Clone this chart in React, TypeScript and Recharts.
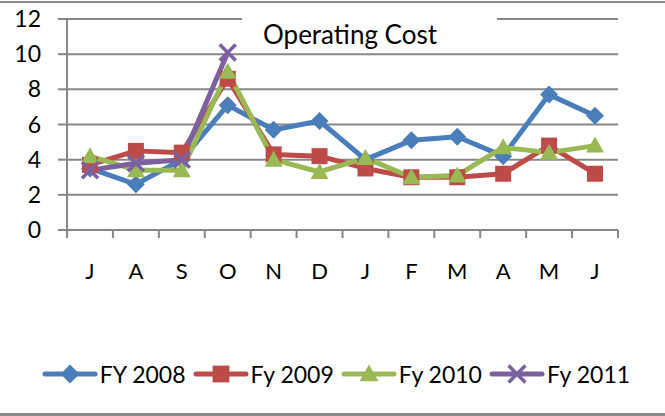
import { LineChart, Line, XAxis, YAxis, CartesianGrid, Legend } from 'recharts';

const months = ['J', 'A', 'S', 'O', 'N', 'D', 'J', 'F', 'M', 'A', 'M', 'J'];
const fy2008 = [3.5, 2.6, 4.0, 7.1, 5.7, 6.2, 4.0, 5.1, 5.3, 4.2, 7.7, 6.5];
const fy2009 = [3.7, 4.5, 4.4, 8.6, 4.3, 4.2, 3.5, 3.0, 3.0, 3.2, 4.8, 3.2];
const fy2010 = [4.2, 3.4, 3.4, 9.0, 4.0, 3.3, 4.1, 3.0, 3.1, 4.7, 4.4, 4.8];
const fy2011 = [3.4, 3.8, 4.0, 10.1, null, null, null, null, null, null, null, null];
const yTicks = [0, 2, 4, 6, 8, 10, 12];

const data = months.map((m, i) => ({
  month: m,
  fy2008: fy2008[i],
  fy2009: fy2009[i],
  fy2010: fy2010[i],
  fy2011: fy2011[i],
}));

const FONT = 'Lato, "Open Sans", sans-serif';
const GRID = '#878787';

const series = [
  { key: 'fy2008', name: 'FY 2008', color: '#4A7EBB', shape: 'diamond' },
  { key: 'fy2009', name: 'Fy 2009', color: '#BE4B48', shape: 'square' },
  { key: 'fy2010', name: 'Fy 2010', color: '#98B954', shape: 'triangle' },
  { key: 'fy2011', name: 'Fy 2011', color: '#7D60A0', shape: 'cross' },
];

function Marker({ cx, cy, shape, color, s = 1 }: any) {
  if (shape === 'diamond') {
    return <polygon points={`${cx},${cy - 9 * s} ${cx + 9 * s},${cy} ${cx},${cy + 9 * s} ${cx - 9 * s},${cy}`} fill={color} />;
  }
  if (shape === 'square') {
    return <rect x={cx - 8 * s} y={cy - 8 * s} width={16 * s} height={16 * s} fill={color} />;
  }
  if (shape === 'triangle') {
    return <polygon points={`${cx},${cy - 9 * s} ${cx + 9 * s},${cy + 7 * s} ${cx - 9 * s},${cy + 7 * s}`} fill={color} />;
  }
  return (
    <g stroke={color} strokeWidth={3.5}>
      <line x1={cx - 8 * s} y1={cy - 8 * s} x2={cx + 8 * s} y2={cy + 8 * s} />
      <line x1={cx - 8 * s} y1={cy + 8 * s} x2={cx + 8 * s} y2={cy - 8 * s} />
    </g>
  );
}

const makeDot = (shape: string, color: string) => (props: any) => {
  const { cx, cy, index } = props;
  if (cy == null || cx == null) return <g key={index} />;
  return <Marker key={index} cx={cx} cy={cy} shape={shape} color={color} />;
};

// month label plus Excel-style tick marks between categories
function MonthTick(props: any) {
  const { x, y, payload, index, width, visibleTicksCount } = props;
  const half = width / visibleTicksCount / 2;
  const last = index === visibleTicksCount - 1;
  return (
    <g>
      <line x1={x - half} y1={y} x2={x - half} y2={y + 8} stroke={GRID} strokeWidth={2} />
      {last && <line x1={x + half} y1={y} x2={x + half} y2={y + 8} stroke={GRID} strokeWidth={2} />}
      <text x={x} y={y + 49} textAnchor="middle" fontFamily={FONT} fontSize={22} fill="#000">
        {payload.value}
      </text>
    </g>
  );
}

function LegendContent() {
  return (
    <div style={{ display: 'flex', justifyContent: 'center', alignItems: 'center', paddingLeft: 14, fontFamily: FONT, fontSize: 23, color: '#000' }}>
      {series.map((s) => (
        <div key={s.key} style={{ display: 'flex', alignItems: 'center', marginRight: 7 }}>
          <svg width={56} height={24}>
            <line x1={3} y1={12} x2={53} y2={12} stroke={s.color} strokeWidth={5} strokeLinecap="round" />
            <Marker cx={28} cy={12} shape={s.shape} color={s.color} s={1.05} />
          </svg>
          <span style={{ marginLeft: 2, lineHeight: '26px' }}>{s.name}</span>
        </div>
      ))}
    </div>
  );
}

export default function App() {
  return (
    <div style={{ position: 'relative', width: 665, height: 416, background: '#fff' }}>
      <style>{'body{margin:0}'}</style>
      <div style={{ position: 'absolute', left: 0, top: 1, width: 665, height: 2, background: '#8a8a8a' }} />
      <div style={{ position: 'absolute', left: 0, top: 413, width: 665, height: 3, background: '#8a8a8a' }} />
      <LineChart width={665} height={416} data={data} margin={{ top: 19, right: 47, left: 0, bottom: 126 }}>
        <CartesianGrid vertical={false} stroke={GRID} strokeWidth={2} />
        <XAxis
          dataKey="month"
          height={60}
          padding={{ left: 23, right: 23 }}
          tickLine={false}
          tickSize={0}
          tickMargin={0}
          interval={0}
          stroke={GRID}
          strokeWidth={2}
          tick={<MonthTick />}
        />
        <YAxis
          width={67}
          domain={[0, 12]}
          ticks={yTicks}
          interval={0}
          tickSize={9}
          tickMargin={17}
          stroke={GRID}
          strokeWidth={2}
          tick={{ fontFamily: FONT, fontSize: 23, fill: '#000' }}
        />
        <Legend
          layout="vertical"
          align="center"
          verticalAlign="middle"
          content={<LegendContent />}
          wrapperStyle={{ position: 'absolute', top: 361, left: 0, bottom: 'auto', width: 665 }}
        />
        {series.map((s) => (
          <Line
            key={s.key}
            dataKey={s.key}
            name={s.name}
            stroke={s.color}
            strokeWidth={5}
            strokeLinejoin="round"
            dot={makeDot(s.shape, s.color)}
            activeDot={false}
            isAnimationActive={false}
          />
        ))}
      </LineChart>
      <div
        style={{
          position: 'absolute',
          left: 242,
          top: 10,
          width: 255,
          height: 40,
          background: '#fff',
          fontFamily: FONT,
          fontSize: 26,
          lineHeight: 1,
          paddingLeft: 21,
          paddingTop: 11,
          boxSizing: 'border-box',
          color: '#000',
        }}
      >
        Operating Cost
      </div>
    </div>
  );
}
